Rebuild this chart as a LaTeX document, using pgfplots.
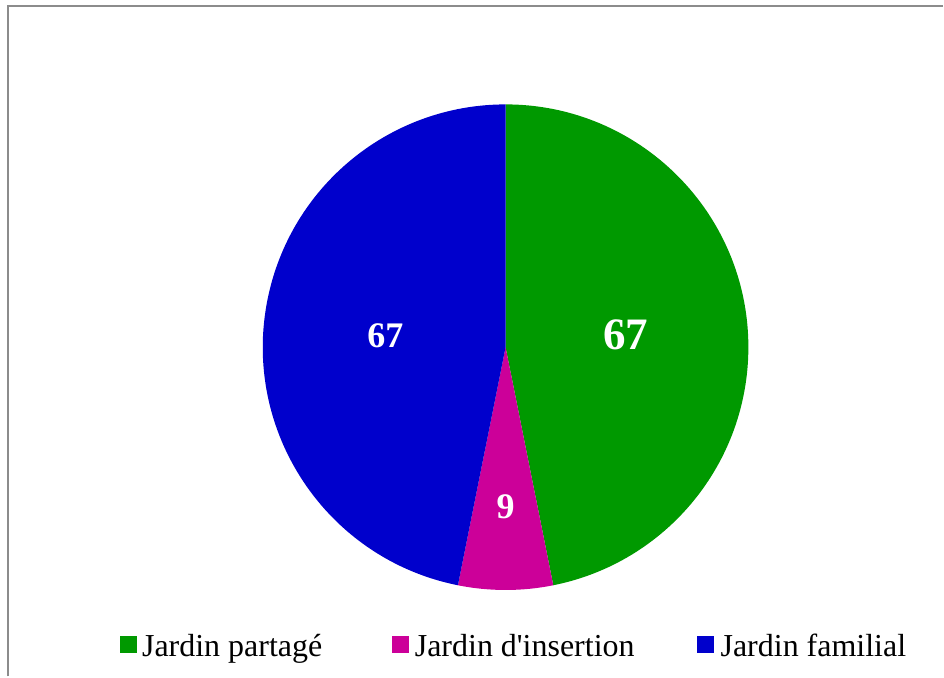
\documentclass[border=0pt]{standalone}
\usepackage{pgfplots}
\usepackage{pgfplotstable}
\pgfplotsset{compat=1.18}
\usetikzlibrary{calc}
\usepackage{fontspec}
\setmainfont{Liberation Serif}
\definecolor{cgreen}{HTML}{009900}
\definecolor{cmag}{HTML}{CC0099}
\definecolor{cblue}{HTML}{0000CC}
\definecolor{frame}{HTML}{8C8C8C}
\pgfplotstableread{
label value
partage 67
insertion 9
familial 67
}\piedata
\begin{document}
\begin{tikzpicture}
\pgfplotstablegetelem{0}{value}\of\piedata\let\va\pgfplotsretval
\pgfplotstablegetelem{1}{value}\of\piedata\let\vb\pgfplotsretval
\pgfplotstablegetelem{2}{value}\of\piedata\let\vc\pgfplotsretval
\pgfmathsetmacro{\tot}{\va+\vb+\vc}
\pgfmathsetmacro{\aA}{90}
\pgfmathsetmacro{\aB}{90-360*(\va/\tot)}
\pgfmathsetmacro{\aC}{\aB-360*(\vb/\tot)}
\pgfmathsetmacro{\aD}{\aC-360*(\vc/\tot)}
\pgfmathsetmacro{\mA}{(\aA+\aB)/2}
\pgfmathsetmacro{\mB}{(\aB+\aC)/2}
\pgfmathsetmacro{\mC}{(\aC+\aD)/2}
\def\R{243}
\begin{axis}[
  scale only axis, width=944bp, height=677bp,
  xmin=0, xmax=944, ymin=0, ymax=677,
  enlargelimits=false, hide axis, clip=false]
  \path (axis cs:0,0) rectangle (axis cs:944,677);
  % frame
  \draw[frame, line width=1.6bp] (axis cs:8,0) -- (axis cs:8,671) -- (axis cs:944,671);
  % sectors
  \fill[cgreen] (axis cs:506,329.5) -- ++(\aA:\R bp) arc[start angle=\aA, end angle=\aB, radius=\R bp] -- cycle;
  \fill[cmag] (axis cs:506,329.5) -- ++(\aB:\R bp) arc[start angle=\aB, end angle=\aC, radius=\R bp] -- cycle;
  \fill[cblue] (axis cs:506,329.5) -- ++(\aC:\R bp) arc[start angle=\aC, end angle=\aD, radius=\R bp] -- cycle;
  % labels
  \node[text=white, font=\bfseries\fontsize{45bp}{50bp}\selectfont] at ($(axis cs:506,329.5)+(\mA:121bp)$) {\va};
  \node[text=white, font=\bfseries\fontsize{36bp}{40bp}\selectfont] at ($(axis cs:506,329.5)+(\mB:160bp)$) {\vb};
  \node[text=white, font=\bfseries\fontsize{36bp}{40bp}\selectfont] at ($(axis cs:506,329.5)+(\mC:121bp)$) {\vc};
  % legend
  \fill[cgreen] (axis cs:120,23) rectangle (axis cs:137,40);
  \node[anchor=base west, inner sep=0pt, font=\fontsize{32bp}{38bp}\selectfont] at (axis cs:142,20) {Jardin partagé};
  \fill[cmag] (axis cs:392,23) rectangle (axis cs:409,40);
  \node[anchor=base west, inner sep=0pt, font=\fontsize{32bp}{38bp}\selectfont] at (axis cs:415,20) {Jardin d\textquotesingle insertion};
  \fill[cblue] (axis cs:698,23) rectangle (axis cs:715,40);
  \node[anchor=base west, inner sep=0pt, font=\fontsize{32bp}{38bp}\selectfont] at (axis cs:721,20) {Jardin familial};
\end{axis}
\end{tikzpicture}
\end{document}
